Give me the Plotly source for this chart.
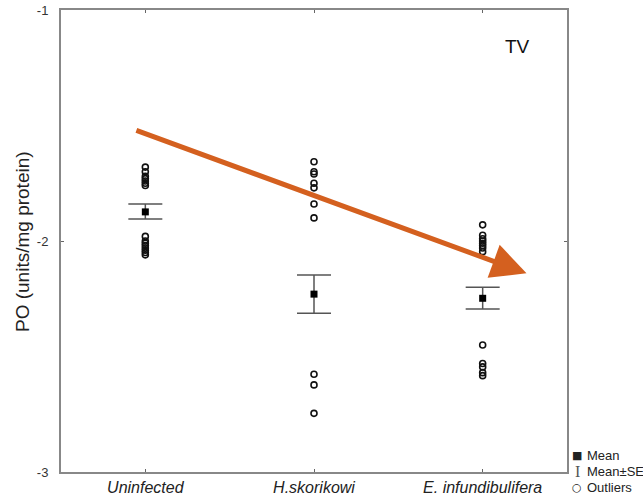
import plotly.graph_objects as go

categories = ["Uninfected", "H.skorikowi", "E. infundibulifera"]
means = [-1.874, -2.23, -2.248]
se_upper = [-1.840, -2.147, -2.200]
se_lower = [-1.905, -2.313, -2.294]

outliers_uninfected = [-1.68, -1.70, -1.72, -1.73, -1.74, -1.75, -1.76,
                       -1.98, -2.00, -2.01, -2.02, -2.03, -2.04, -2.05, -2.06]
outliers_hsk = [-1.657, -1.70, -1.71, -1.75, -1.77, -1.84, -1.90,
                -2.577, -2.623, -2.746]
outliers_einf = [-1.93, -1.975, -1.99, -2.00, -2.01, -2.02, -2.03, -2.046,
                 -2.45, -2.53, -2.545, -2.57, -2.583]

y_ticks = [-1, -2, -3]
trend_start = (-0.062, -1.519)
trend_end = (2.26, -2.14)

xidx = list(range(len(categories)))

W, H = 643, 500
ML, MR, MT, MB = 61, 76, 10, 28
PW, PH = W - ML - MR, H - MT - MB


def px_to_paper(px, py):
    return (px - ML) / PW, 1 - (py - MT) / PH


fig = go.Figure()

# outliers
ox, oy = [], []
for i, vals in enumerate([outliers_uninfected, outliers_hsk, outliers_einf]):
    ox += [xidx[i]] * len(vals)
    oy += vals
fig.add_trace(go.Scatter(
    x=ox, y=oy, mode="markers",
    marker=dict(symbol="circle-open", size=6, color="#111",
                line=dict(width=1.6, color="#111")),
    showlegend=False, hoverinfo="y"))

# mean +/- SE
fig.add_trace(go.Scatter(
    x=xidx, y=means, mode="markers",
    marker=dict(symbol="square", size=7, color="#000"),
    error_y=dict(type="data", symmetric=False,
                 array=[u - m for u, m in zip(se_upper, means)],
                 arrayminus=[m - l for m, l in zip(means, se_lower)],
                 color="#555", thickness=1.5, width=17),
    showlegend=False))

# trend arrow
fig.add_annotation(
    x=trend_end[0], y=trend_end[1], ax=trend_start[0], ay=trend_start[1],
    xref="x", yref="y", axref="x", ayref="y",
    showarrow=True, arrowhead=2, arrowsize=1.4, arrowwidth=5,
    arrowcolor="#D4601F", text="")

fig.add_annotation(x=2.204, y=-1.16, xref="x", yref="y", text="TV",
                   showarrow=False, font=dict(size=19, color="#111",
                                              family="Liberation Sans, Arial"))

# y-axis title
tx, ty = px_to_paper(22, 242)
fig.add_annotation(x=tx, y=ty, xref="paper", yref="paper",
                   text="PO (units/mg protein)", textangle=-90, showarrow=False,
                   xanchor="center", yanchor="middle",
                   font=dict(size=19, color="#222", family="Liberation Sans, Arial"))

# legend (custom)
legend_items = ["■", "I", "○"]
legend_text = ["Mean", "Mean±SE", "Outliers"]
legend_rows = [455, 471, 488]
for sym, txt, ypx in zip(legend_items, legend_text, legend_rows):
    sx, sy = px_to_paper(577, ypx)
    is_se = sym == "I"
    fig.add_annotation(x=sx, y=sy, xref="paper", yref="paper",
                       xanchor="center", yanchor="middle", showarrow=False,
                       text=sym, font=dict(size=16 if is_se else 11,
                                           color="#555" if is_se else "#222",
                                           family="Liberation Serif" if is_se else "DejaVu Sans"))
    lx, ly = px_to_paper(585, ypx)
    fig.add_annotation(x=lx, y=ly, xref="paper", yref="paper",
                       xanchor="left", yanchor="middle", showarrow=False,
                       text=txt, font=dict(size=13, color="#222",
                                           family="Liberation Sans, Arial"))

fig.update_xaxes(range=[-0.5, 2.5], tickvals=xidx,
                 ticktext=[f"<i>{c}</i>" for c in categories],
                 showline=True, linecolor="#888", linewidth=2, mirror="ticks",
                 ticks="inside", ticklen=3, tickcolor="#666",
                 showgrid=False, zeroline=False, automargin=False,
                 tickfont=dict(size=16, color="#222", family="Liberation Sans, Arial"))
fig.update_yaxes(range=[-3, -1], tickvals=y_ticks, ticktext=[str(t) for t in y_ticks],
                 showline=True, linecolor="#888", linewidth=2, mirror="ticks",
                 ticks="inside", ticklen=3, tickcolor="#666", ticklabelstandoff=8,
                 showgrid=False, zeroline=False, automargin=False,
                 tickfont=dict(size=13, color="#333", family="Liberation Sans, Arial"))

fig.update_layout(width=W, height=H, plot_bgcolor="white", paper_bgcolor="white",
                  margin=dict(l=ML, r=MR, t=MT, b=MB), showlegend=False)

fig.write_html("out.html", config={"displayModeBar": False},
               post_script="document.body.style.margin='0';document.body.style.overflow='hidden';")
